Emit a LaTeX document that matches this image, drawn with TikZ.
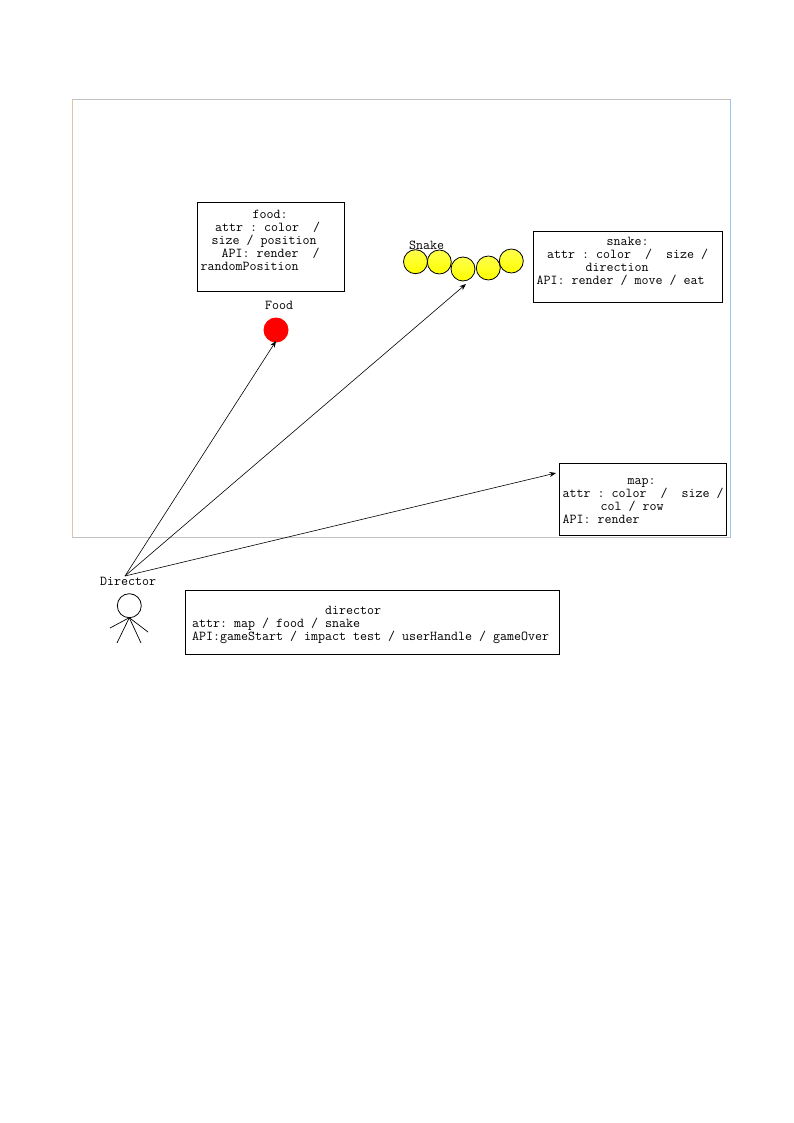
\documentclass[tikz,border=0pt]{standalone}
\usetikzlibrary{arrows.meta}
\newcommand{\ind}[1]{\hspace*{#1pt}}
\tikzset{
  every node/.style={inner sep=0pt,outer sep=0pt},
  txt/.style={font=\ttfamily\fontsize{13.6}{13}\selectfont\frenchspacing,align=left,anchor=base west,text=black},
  boxx/.style={draw=black,line width=1pt,rectangle,anchor=north west},
  ball/.style={circle,draw=black,line width=0.8pt,minimum size=24pt,top color=yellow!70!white,bottom color=yellow},
  link/.style={draw=black,line width=0.6pt,-{Stealth[length=6.5pt,width=5pt]}},
  limb/.style={draw=black,line width=0.7pt},
}
\begin{document}
\begin{tikzpicture}[x=1pt,y=-1pt]
\useasboundingbox (0,0) rectangle (794,1123);
\fill[white] (0,0) rectangle (794,1123);
% frame
\coordinate (tl) at (72.5,99.5);
\coordinate (tr) at (730.5,99.5);
\coordinate (br) at (730.5,537.5);
\coordinate (bl) at (72.5,537.5);
\definecolor{frtan}{HTML}{DCC6A4}
\definecolor{frgrey}{HTML}{BDC3C7}
\definecolor{frblue}{HTML}{9DC3E6}
\draw[frtan,line width=1pt] (tl) -- (bl);
\draw[frgrey,line width=1pt] (tl) -- (tr);
\draw[frblue,line width=1pt] (tr) -- (br);
\draw[frgrey,line width=1pt] (bl) -- (br);
% boxes
\node[boxx,minimum width=147pt,minimum height=89pt] (foodbox) at (197.5,202.5) {};
\node[boxx,minimum width=189pt,minimum height=71pt] (snakebox) at (533.5,231.5) {};
\node[boxx,minimum width=167pt,minimum height=72pt] (mapbox) at (559.5,463.5) {};
\node[boxx,minimum width=374pt,minimum height=64pt] (dirbox) at (185.5,590.5) {};
% box texts
\node[txt] (foodtxt) at (200.5,270) {\ind{52}food:\\\ind{14.5}attr : color~~/\\\ind{11}size / position\\\ind{21}API: render~~/\\randomPosition};
\node[txt] (snaketxt) at (536.5,284) {\ind{70}snake:\\\ind{10.5}attr : color~~/~~size /\\\ind{49}direction\\API: render / move / eat};
\node[txt] (maptxt) at (562.5,523) {\ind{65}map:\\attr : color~~/~~size /\\\ind{38}col / row\\API: render};
\node[txt] (dirtxt) at (192,640) {\ind{133}director\\attr: map / food / snake\\API:gameStart / impact test / userHandle / gameOver};
% food
\node[txt] (foodlbl) at (265,309) {Food};
\node[circle,fill=red,minimum size=25pt] (food) at (276,330) {};
% snake
\node[ball] (s1) at (415.5,261.7) {};
\node[ball] (s2) at (439.3,262) {};
\node[ball] (s3) at (463,269) {};
\node[ball] (s4) at (488.3,268) {};
\node[ball] (s5) at (511.3,261) {};
\node[txt] (snakelbl) at (409,249) {Snake};
% director
\node[txt] (dirlbl) at (100,585) {Director};
\node[circle,draw=black,line width=0.8pt,minimum size=24pt] (head) at (129.3,605.7) {};
\coordinate (neck) at (129.3,617.7);
\coordinate (armL) at (110,628);
\coordinate (armR) at (148,632);
\coordinate (legL) at (117,643);
\coordinate (legR) at (141,643);
\draw[limb] (neck) -- (armL);
\draw[limb] (neck) -- (armR);
\draw[limb] (neck) -- (legL);
\draw[limb] (neck) -- (legR);
% connectors
\coordinate (hub) at (125,576);
\coordinate (tofood) at (276,341);
\coordinate (tosnake) at (466,284);
\coordinate (tomap) at (556,473);
\draw[link] (hub) -- (tofood);
\draw[link] (hub) -- (tosnake);
\draw[link] (hub) -- (tomap);
\end{tikzpicture}
\end{document}
